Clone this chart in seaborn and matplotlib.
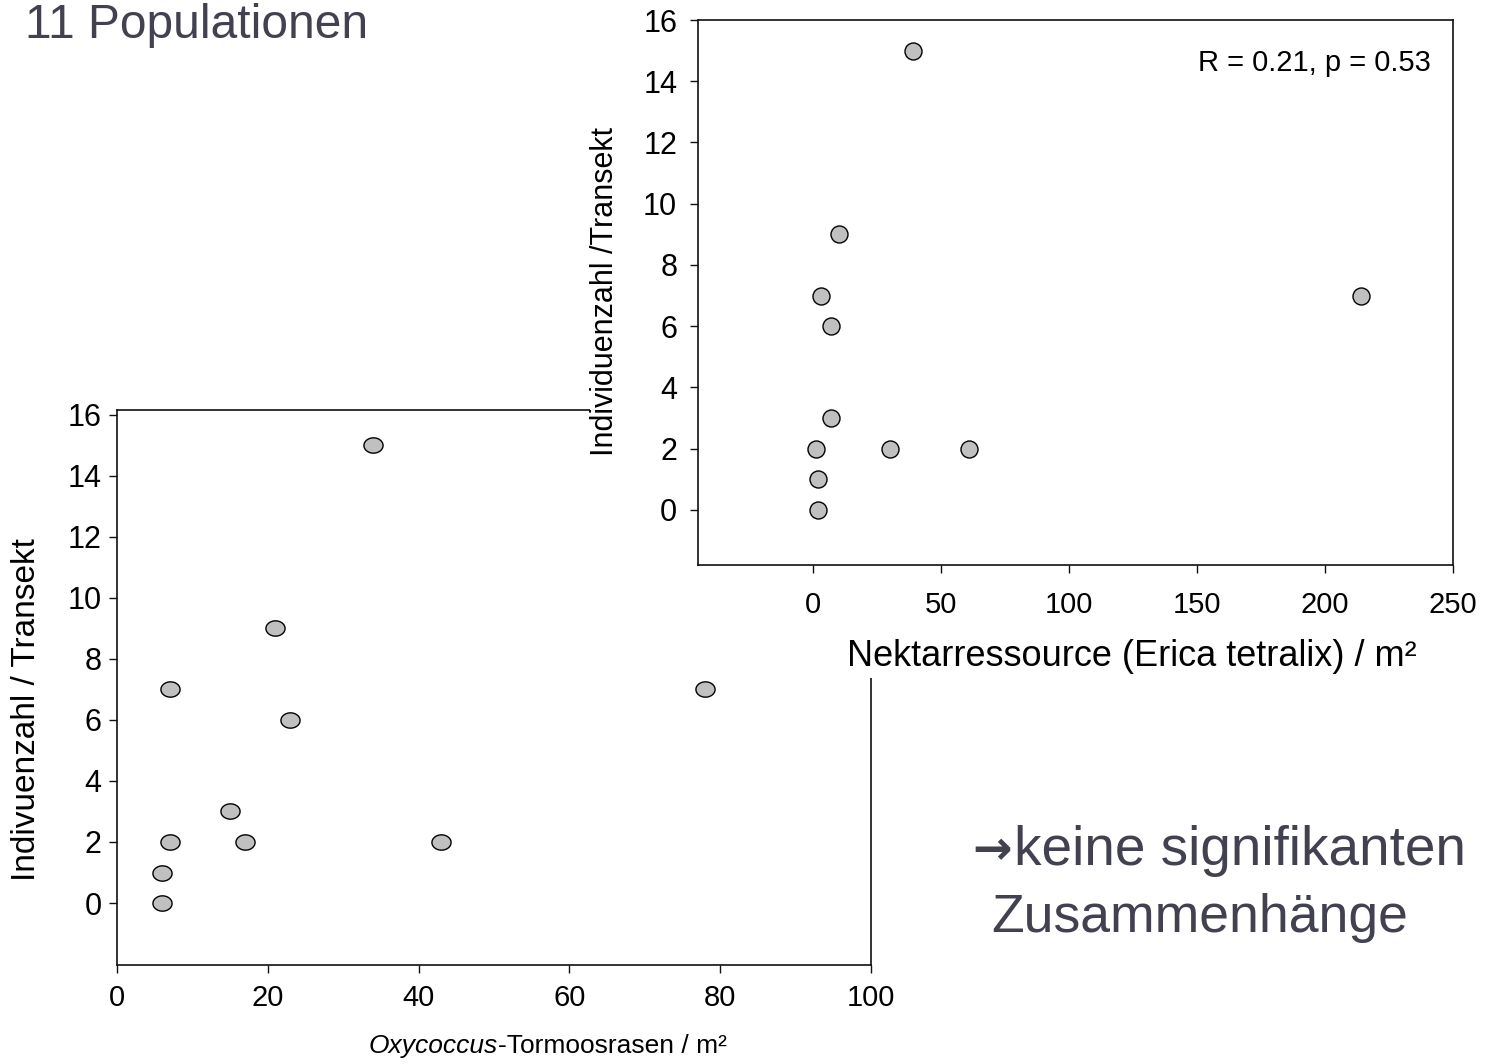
import numpy as np
import pandas as pd
import matplotlib
matplotlib.use("Agg")
import matplotlib.pyplot as plt
from matplotlib.patches import Rectangle
from matplotlib.path import Path
import seaborn as sns

# ---- data ----
oxy_x = [6, 6, 7, 15, 17, 23, 21, 7, 34, 43, 78]
oxy_y = [0, 1, 2, 3, 2, 6, 9, 7, 15, 2, 7]
erica_x = [2, 2, 1, 7, 30, 61, 7, 3, 10, 39, 214]
erica_y = [0, 1, 2, 3, 2, 2, 6, 7, 9, 15, 7]
lower_xticks = [0, 20, 40, 60, 80, 100]
upper_xticks = [0, 50, 100, 150, 200, 250]
yticks = [0, 2, 4, 6, 8, 10, 12, 14, 16]
title_text = "11 Populationen"
stat_text = "R = 0.21, p = 0.53"
concl_arrow = "\u2192"
concl_line1 = "keine signifikanten"
concl_line2 = "Zusammenhänge"

sns.set_theme(style="white")
plt.rcParams['font.family'] = ['Liberation Sans', 'DejaVu Sans']

W, H = 1492, 1064
fig = plt.figure(figsize=(W / 100, H / 100), dpi=100)
fig.patch.set_facecolor("white")

def fx(px):
    return px / W

def fy(py):
    return 1 - py / H

# lower axes
axL = fig.add_axes([fx(117), fy(965), fx(871) - fx(117), fy(410) - fy(965)], zorder=0)
# upper axes
axU = fig.add_axes([fx(698), fy(565), fx(1453) - fx(698), fy(20) - fy(565)], zorder=2)

# white cover behind upper plot (it was pasted over the lower one)
cover = Rectangle((fx(590), fy(678)), 1 - fx(590), 1 - fy(678) + 0.01,
                  transform=fig.transFigure, facecolor="white", edgecolor="none", zorder=1)
fig.add_artist(cover)

# ellipse marker for lower plot
t = np.linspace(0, 2 * np.pi, 60)
ell = Path(np.column_stack([np.cos(t), 0.8 * np.sin(t)]), closed=True)

dfL = pd.DataFrame({"x": oxy_x, "y": oxy_y})
dfU = pd.DataFrame({"x": erica_x, "y": erica_y})

sns.scatterplot(data=dfL, x="x", y="y", ax=axL, marker=ell, s=190,
                color="#c0c0c0", edgecolor="black", linewidth=1.0, zorder=3)
sns.scatterplot(data=dfU, x="x", y="y", ax=axU, marker="o", s=150,
                color="#c0c0c0", edgecolor="black", linewidth=1.0, zorder=3)

for ax in (axL, axU):
    ax.set_facecolor("white")
    for sp in ax.spines.values():
        sp.set_visible(True)
        sp.set_color("#111111")
        sp.set_linewidth(1.2)
    ax.tick_params(axis="both", direction="out", length=6, width=1.0, color="#111111",
                   labelcolor="black", left=True, bottom=True, top=False, right=False)
    ax.set_yticks(yticks)
    ax.grid(False)

axL.set_xlim(0, 100)
axL.set_ylim(-2.03, 16.15)
axL.set_xticks(lower_xticks)
axL.tick_params(axis="y", labelsize=22, pad=5)
axL.tick_params(axis="x", labelsize=21, pad=8)

axU.set_xlim(-45, 250)
axU.set_ylim(-1.8, 16)
axU.set_xticks(upper_xticks)
axU.tick_params(axis="y", labelsize=22, pad=9)
axU.tick_params(axis="x", labelsize=21, pad=13)

# lower x label: italic genus + roman rest
axL.set_xlabel("")
split_x = (498 - 117) / 754
ly = (965 - 1046) / 555
axL.text(split_x, ly, "Oxycoccus", transform=axL.transAxes, fontsize=19, style="italic",
         ha="right", va="center", color="black")
axL.text(split_x, ly, "-Tormoosrasen / m²", transform=axL.transAxes, fontsize=19,
         ha="left", va="center", color="black")

axL.set_ylabel("Indivuenzahl / Transekt", fontsize=24, color="black")
axL.yaxis.set_label_coords((27 - 117) / 754, (965 - 710) / 555)
axL.yaxis.label.set_va("center")

axU.set_xlabel("Nektarressource (Erica tetralix) / m²", fontsize=26, color="black")
axU.xaxis.set_label_coords((1132 - 698) / 755, (565 - 657) / 545)
axU.xaxis.label.set_va("center")
axU.set_ylabel("Individuenzahl /Transekt", fontsize=22, color="black")
axU.yaxis.set_label_coords((605 - 698) / 755, (565 - 292) / 545)
axU.yaxis.label.set_va("center")

axU.text((1431 - 698) / 755, (565 - 63) / 545, stat_text, transform=axU.transAxes,
         ha="right", va="center", fontsize=21, color="black")

txtc = "#41414f"
fig.text(fx(25), fy(38), title_text, fontsize=34.5, color=txtc, ha="left", va="baseline")
fig.text(fx(972), fy(864), concl_arrow, fontsize=34, color=txtc, ha="left", va="baseline",
         family=['DejaVu Sans'], fontweight="bold")
fig.text(fx(1014), fy(865), concl_line1, fontsize=39.5, color=txtc, ha="left", va="baseline")
fig.text(fx(991), fy(932), concl_line2, fontsize=38.5, color=txtc, ha="left", va="baseline")

fig.savefig("out.png", dpi=100, facecolor="white")
